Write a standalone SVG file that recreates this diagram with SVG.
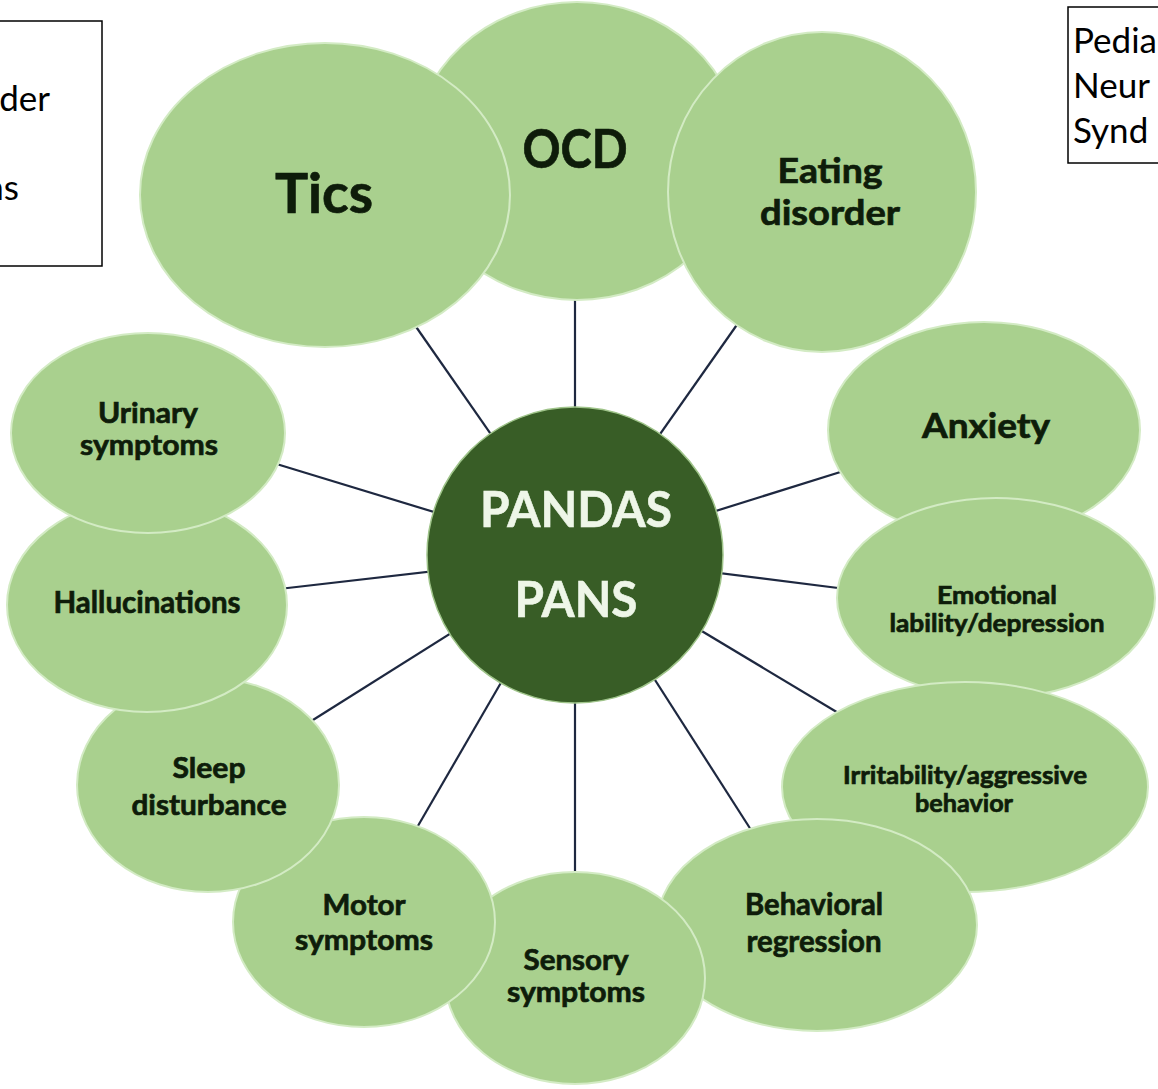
<svg xmlns="http://www.w3.org/2000/svg" width="1158" height="1089" viewBox="0 0 1158 1089">
<style>
.bub{fill:#a9d08e;stroke:#d3ebc4;stroke-width:2}
.lbl{font-family:Lato,"Open Sans","Liberation Sans",sans-serif;font-weight:bold;fill:#0e1c0a;stroke:#0e1c0a;stroke-width:0.7;text-anchor:middle}
.ctr{font-family:Lato,"Open Sans","Liberation Sans",sans-serif;font-weight:bold;fill:#eef6e8;stroke:#eef6e8;stroke-width:0.6;text-anchor:middle;font-size:50px}
.box{fill:#fff;stroke:#000;stroke-width:1.5}
.bt{font-family:Lato,"Open Sans","Liberation Sans",sans-serif;font-size:35px;fill:#000}
.con{stroke:#1e2840;stroke-width:2.2;fill:none}
</style>
<rect width="1158" height="1089" fill="#fff"/>
<g id="box-left">
<rect class="box" x="-2" y="21" width="104" height="245"/>
<text class="bt" x="50" y="111" text-anchor="end">der</text>
<text class="bt" x="19" y="200" text-anchor="end">ns</text>
</g>
<g id="box-right">
<rect class="box" x="1068" y="7" width="100" height="156"/>
<text class="bt" x="1073" y="53">Pedia</text>
<text class="bt" x="1073" y="98">Neur</text>
<text class="bt" x="1073" y="143">Synd</text>
</g>
<g id="connectors">
<line class="con" x1="575" y1="555" x2="412" y2="321"/>
<line class="con" x1="575" y1="555" x2="575" y2="292"/>
<line class="con" x1="575" y1="555" x2="741" y2="319"/>
<line class="con" x1="575" y1="555" x2="850" y2="469"/>
<line class="con" x1="575" y1="555" x2="846" y2="589"/>
<line class="con" x1="575" y1="555" x2="845" y2="717"/>
<line class="con" x1="575" y1="555" x2="753" y2="833"/>
<line class="con" x1="575" y1="555" x2="575" y2="880"/>
<line class="con" x1="575" y1="555" x2="415" y2="831"/>
<line class="con" x1="575" y1="555" x2="305" y2="725"/>
<line class="con" x1="575" y1="555" x2="279" y2="589"/>
<line class="con" x1="575" y1="555" x2="270" y2="462"/>
</g>
<g id="node-ocd">
<ellipse class="bub" cx="577" cy="151" rx="163" ry="149"/>
<text class="lbl" x="575" y="168" font-size="53" textLength="105" lengthAdjust="spacingAndGlyphs">OCD</text>
</g>
<g id="node-eating">
<ellipse class="bub" cx="822" cy="192" rx="154" ry="160"/>
<text class="lbl" x="830" y="183" font-size="35" textLength="105" lengthAdjust="spacingAndGlyphs">Eating</text>
<text class="lbl" x="830" y="225" font-size="35" textLength="140" lengthAdjust="spacingAndGlyphs">disorder</text>
</g>
<g id="node-anxiety">
<ellipse class="bub" cx="984" cy="430" rx="156" ry="108"/>
<text class="lbl" x="986" y="438" font-size="35" textLength="128" lengthAdjust="spacingAndGlyphs">Anxiety</text>
</g>
<g id="node-emotional">
<ellipse class="bub" cx="996" cy="598" rx="159" ry="100"/>
<text class="lbl" x="997" y="604" font-size="25" textLength="120" lengthAdjust="spacingAndGlyphs">Emotional</text>
<text class="lbl" x="997" y="632" font-size="25" textLength="215" lengthAdjust="spacingAndGlyphs">lability/depression</text>
</g>
<g id="node-irritability">
<ellipse class="bub" cx="965" cy="787" rx="183" ry="105"/>
<text class="lbl" x="965" y="784" font-size="25" textLength="244" lengthAdjust="spacingAndGlyphs">Irritability/aggressive</text>
<text class="lbl" x="964" y="812" font-size="25" textLength="98" lengthAdjust="spacingAndGlyphs">behavior</text>
</g>
<g id="node-behavioral">
<ellipse class="bub" cx="817" cy="925" rx="160" ry="106"/>
<text class="lbl" x="814" y="915" font-size="30" textLength="138" lengthAdjust="spacingAndGlyphs">Behavioral</text>
<text class="lbl" x="814" y="952" font-size="30" textLength="135" lengthAdjust="spacingAndGlyphs">regression</text>
</g>
<g id="node-sensory">
<ellipse class="bub" cx="575" cy="978" rx="130" ry="106"/>
<text class="lbl" x="576" y="970" font-size="29" textLength="105" lengthAdjust="spacingAndGlyphs">Sensory</text>
<text class="lbl" x="576" y="1002" font-size="29" textLength="138" lengthAdjust="spacingAndGlyphs">symptoms</text>
</g>
<g id="node-motor">
<ellipse class="bub" cx="364" cy="922" rx="131" ry="105"/>
<text class="lbl" x="364" y="915" font-size="29" textLength="83" lengthAdjust="spacingAndGlyphs">Motor</text>
<text class="lbl" x="364" y="950" font-size="29" textLength="138" lengthAdjust="spacingAndGlyphs">symptoms</text>
</g>
<g id="node-sleep">
<ellipse class="bub" cx="208" cy="785" rx="131" ry="107"/>
<text class="lbl" x="209" y="778" font-size="29" textLength="73" lengthAdjust="spacingAndGlyphs">Sleep</text>
<text class="lbl" x="209" y="815" font-size="29" textLength="155" lengthAdjust="spacingAndGlyphs">disturbance</text>
</g>
<g id="node-hallucinations">
<ellipse class="bub" cx="147" cy="605" rx="140" ry="107"/>
<text class="lbl" x="147" y="613" font-size="31" textLength="187" lengthAdjust="spacingAndGlyphs">Hallucinations</text>
</g>
<g id="node-urinary">
<ellipse class="bub" cx="148" cy="433" rx="137" ry="100"/>
<text class="lbl" x="148" y="423" font-size="29" textLength="100" lengthAdjust="spacingAndGlyphs">Urinary</text>
<text class="lbl" x="149" y="455" font-size="29" textLength="138" lengthAdjust="spacingAndGlyphs">symptoms</text>
</g>
<g id="node-tics">
<ellipse class="bub" cx="325" cy="195" rx="185" ry="152"/>
<text class="lbl" x="324" y="213" font-size="55" textLength="98" lengthAdjust="spacingAndGlyphs">Tics</text>
</g>
<g id="node-center">
<circle cx="575" cy="555" r="148" fill="#385d26" stroke="#9fc48a" stroke-width="1.5"/>
<text class="ctr" x="576" y="527" textLength="192" lengthAdjust="spacingAndGlyphs">PANDAS</text>
<text class="ctr" x="576" y="617" textLength="123" lengthAdjust="spacingAndGlyphs">PANS</text>
</g>
</svg>
